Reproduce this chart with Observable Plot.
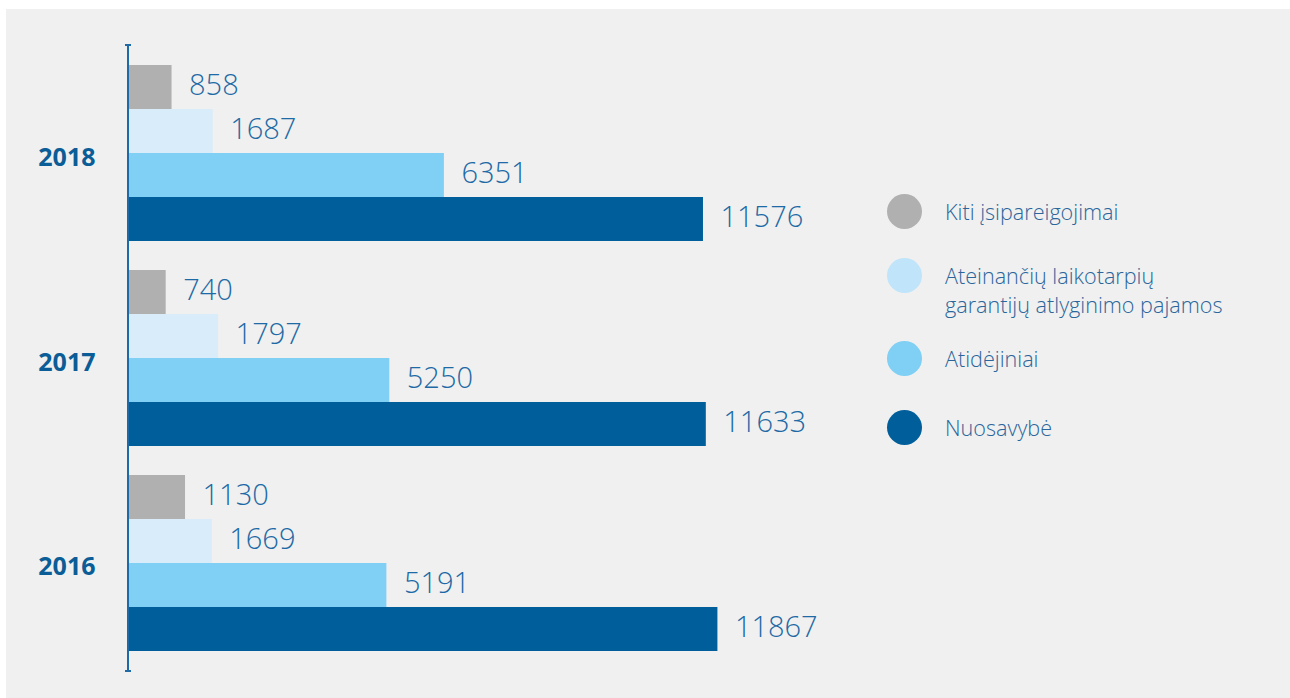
<!DOCTYPE html>
<html><head><meta charset="utf-8">
<script src="https://cdn.jsdelivr.net/npm/d3@7"></script>
<script src="https://cdn.jsdelivr.net/npm/@observablehq/plot@0.6"></script>
<style>
html,body{margin:0;padding:0;background:#fff}
#wrap{position:relative;width:1290px;height:698px;overflow:hidden;font-family:"Open Sans",sans-serif}
#panel{position:absolute;left:6px;top:9px;width:1284px;height:689px;background:#f0f0f0}
#chart{position:absolute;left:0;top:0}
.item{position:absolute;left:887px;height:35px}
.dot{position:absolute;left:0;top:0;width:35px;height:35px;border-radius:50%}
.lab{position:absolute;left:58px;top:3px;white-space:nowrap;font-size:21.6px;line-height:29px;color:#2a659b;font-weight:300}
</style></head>
<body>
<div id="wrap"><div id="panel"></div><div id="chart"></div><div id="legend"></div></div>
<script>
const years = ["2018", "2017", "2016"];
const series = ["Kiti įsipareigojimai", "Ateinančių laikotarpių garantijų atlyginimo pajamos", "Atidėjiniai", "Nuosavybė"];
const legendLabels = ["Kiti įsipareigojimai", "Ateinančių laikotarpių<br>garantijų atlyginimo pajamos", "Atidėjiniai", "Nuosavybė"];
const kiti = [858, 740, 1130];
const ateinanciu = [1687, 1797, 1669];
const atidejiniai = [6351, 5250, 5191];
const nuosavybe = [11576, 11633, 11867];
const barColors = ["#b0b0b0", "#d8ecfa", "#80cff4", "#005e9a"];
const dotColors = ["#b0b0b0", "#c0e4fa", "#80cff4", "#005e9a"];

const valuesBySeries = [kiti, ateinanciu, atidejiniai, nuosavybe];
const rows = [];
years.forEach((yr, i) => series.forEach((s, j) => rows.push({year: yr, series: s, value: valuesBySeries[j][i]})));

const chart = Plot.plot({
  width: 1290, height: 698,
  marginLeft: 129, marginRight: 566, marginTop: 45, marginBottom: 27,
  style: {background: "transparent", overflow: "visible", fontFamily: "'Open Sans', sans-serif"},
  x: {domain: [0, 12000], axis: null},
  y: {domain: series, axis: null, padding: 0, round: false},
  fy: {domain: years, paddingInner: 0.1415, paddingOuter: 0.0976, round: false, axis: null},
  color: {domain: series, range: barColors},
  facet: {data: rows, y: "year"},
  marks: [
    Plot.barX(rows, {x: "value", y: "series", fill: "series"}),
    Plot.text(rows, {x: "value", y: "series", text: d => String(d.value), textAnchor: "start", dx: 17, dy: -2, fontSize: 29, fontWeight: 300, fill: "#1d6aa6"}),
    Plot.text(rows, Plot.selectFirst({text: "year", frameAnchor: "left", textAnchor: "end", dx: -34, dy: 4, fontSize: 25, fontWeight: "bold", fill: "#0a5d96"}))
  ]
});
document.getElementById("chart").appendChild(chart);

// axis line along the facet range at x = 0
const fyR = chart.scale("fy").range;
const x0 = chart.scale("x").range[0];
const g = d3.select(chart).append("g").attr("stroke", "#1d6aa6");
g.append("line").attr("x1", x0 - 1).attr("x2", x0 - 1).attr("y1", fyR[0]).attr("y2", fyR[1]).attr("stroke-width", 2);
[fyR[0], fyR[1]].forEach(y => g.append("line").attr("x1", x0 - 4).attr("x2", x0 + 2).attr("y1", y).attr("y2", y).attr("stroke-width", 2));

// legend
const tops = [194, 258, 341, 410];
const leg = document.getElementById("legend");
series.forEach((s, i) => {
  const it = document.createElement("div");
  it.className = "item";
  it.style.top = tops[i] + "px";
  it.innerHTML = `<div class="dot" style="background:${dotColors[i]}"></div><div class="lab">${legendLabels[i]}</div>`;
  leg.appendChild(it);
});
</script>
</body></html>
